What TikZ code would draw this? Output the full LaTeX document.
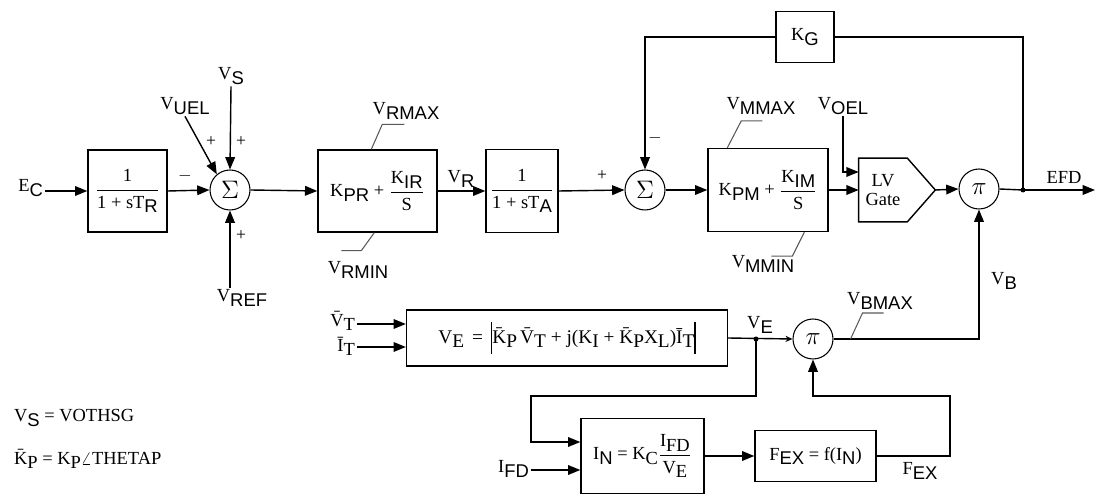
\documentclass[tikz,border=0pt]{standalone}
\usepackage{fontspec}
\usepackage{amsmath}
\setmainfont{Liberation Serif}
\setsansfont{Liberation Sans}
\usetikzlibrary{arrows.meta,calc}

% letra con subindice (sans) y subindice serif
\newcommand{\sub}[2]{\mbox{#1\raisebox{-0.5ex}{\sffamily #2}}}
\newcommand{\rsub}[2]{\mbox{#1\raisebox{-0.5ex}{#2}}}
\newcommand{\absbar}{\rule[-1.2ex]{0.7pt}{3.6ex}}

\tikzset{
  blk/.style={draw, line width=0.8pt, inner sep=1pt, font=\fontsize{10.5}{12}\selectfont},
  summ/.style={draw, circle, line width=0.6pt, minimum size=0.8cm, inner sep=0pt, font=\Large},
  sig/.style={line width=0.8pt, -{Triangle[length=7pt,width=5.5pt]}},
  wire/.style={line width=0.8pt},
  lim/.style={line width=0.6pt, black!65},
  lbl/.style={font=\fontsize{10.5}{12}\selectfont, inner sep=1pt},
  sgn/.style={font=\normalsize, inner sep=0pt},
}

\begin{document}
\begin{tikzpicture}[x=0.02cm, y=-0.02cm]
    \useasboundingbox (0,0) rectangle (1096,496);

    % Bloques
    \node[blk, minimum width=1.58cm, minimum height=1.64cm] (tr) at (127.5,191)
        {$\dfrac{\mbox{1}}{\mbox{1 + s\sub{T}{R}}}$};
    \node[summ] (sum1) at (230,190) {$\Sigma$};
    \node[blk, minimum width=2.38cm, minimum height=1.64cm] (pr) at (377.5,191)
        {\sub{K}{PR} + $\dfrac{\mbox{\sub{K}{IR}}}{\mbox{S}}$};
    \node[blk, minimum width=1.44cm, minimum height=1.66cm] (ta) at (522,191)
        {$\dfrac{\mbox{1}}{\mbox{1 + s\sub{T}{A}}}$};
    \node[summ] (sum2) at (645,190) {$\Sigma$};
    \node[blk, minimum width=2.4cm, minimum height=1.66cm] (pm) at (768,190)
        {\sub{K}{PM} + $\dfrac{\mbox{\sub{K}{IM}}}{\mbox{S}}$};
    \node[minimum width=0.96cm, minimum height=1.26cm, inner sep=0pt, align=center,
          font=\fontsize{10.5}{11}\selectfont] (gbox) at (883,190) {LV\\Gate};
    \node[summ] (pi1) at (979,189) {$\pi$};
    \node[blk, minimum width=1.16cm, minimum height=1.02cm] (kg) at (805,37) {\sub{K}{G}};
    \node[blk, minimum width=6.42cm, minimum height=1.12cm, font=\fontsize{11}{12}\selectfont] (ve) at (567,338)
        {\rsub{V}{E} \,=\, \absbar\rsub{\={K}}{P}\,\rsub{\={V}}{T} + j(\rsub{K}{I} + \rsub{\={K}}{P}\rsub{X}{L})\rsub{\={I}}{T}\absbar};
    \node[summ] (pi2) at (813,339) {$\pi$};
    \node[blk, minimum width=2.46cm, minimum height=1.5cm] (in) at (642.5,456)
        {\sub{I}{N} = \rsub{K}{C}$\dfrac{\mbox{\rsub{I}{FD}}}{\mbox{\rsub{V}{E}}}$};
    \node[blk, minimum width=2.42cm, minimum height=1.02cm] (fex) at (815.5,456)
        {\sub{F}{EX} = f(\sub{I}{N})};

    % Compuerta LV
    \draw[line width=0.8pt] (gbox.north west) -- (gbox.north east)
        -- ($(gbox.east)+(28,0)$) coordinate (gtip) -- (gbox.south east)
        -- (gbox.south west) -- cycle;

    % Etiquetas
    \node[lbl, anchor=east] (ec) at (45,188) {\sub{E}{C}};
    \node[lbl] (vs) at (231,76) {\sub{V}{S}};
    \node[lbl] (vuel) at (185,106) {\sub{V}{UEL}};
    \node[lbl] (vref) at (242,298) {\sub{V}{REF}};
    \node[lbl] (vrmax) at (406,111) {\sub{V}{RMAX}};
    \node[lbl] (vrmin) at (358,270) {\sub{V}{RMIN}};
    \node[lbl] (vr) at (461,179) {\sub{V}{R}};
    \node[lbl] (vmmax) at (761,106) {\sub{V}{MMAX}};
    \node[lbl] (voel) at (843,106) {\sub{V}{OEL}};
    \node[lbl] (vmmin) at (763,264) {\sub{V}{MMIN}};
    \node[lbl] (efd) at (1064,177) {EFD};
    \node[lbl] (vb) at (1004,281) {\sub{V}{B}};
    \node[lbl] (vbmax) at (880,301) {\sub{V}{BMAX}};
    \node[lbl] (vel) at (760,325) {\sub{V}{E}};
    \node[lbl, anchor=east] (vt) at (357,321) {\rsub{\={V}}{T}};
    \node[lbl, anchor=east] (it) at (357,346) {\rsub{\={I}}{T}};
    \node[lbl, anchor=east] (ifd) at (531,469) {\sub{I}{FD}};
    \node[lbl] (fexl) at (920,471) {\sub{F}{EX}};

    % Signos
    \node[sgn] at (211,142) {+};
    \node[sgn] at (241,142) {+};
    \node[sgn] at (185,176) {$-$};
    \node[sgn] at (241,236) {+};
    \node[sgn] at (602,176) {+};
    \node[sgn] at (655,138) {$-$};

    % Puntos de union
    \coordinate (j1) at (1023,190);
    \coordinate (j2) at (756,339);
    \coordinate (efdend) at (1095,190);
    \coordinate (k1) at (531,396);
    \coordinate (k2) at (950,396);
    \coordinate (vtin) at ($(ve.west)+(0,-14)$);
    \coordinate (itin) at ($(ve.west)+(0,9)$);
    \coordinate (inup) at ($(in.west)+(0,-14)$);
    \coordinate (indn) at ($(in.west)+(0,14)$);

    % Lazo principal
    \draw[sig] (ec.east |- tr.west) -- (tr.west);
    \draw[sig] (tr.east) -- (sum1.west);
    \draw[sig] (vs.south) -- (sum1.north);
    \draw[sig] (vuel.south) -- (sum1.130);
    \draw[sig] (vref.north -| sum1) -- (sum1.south);
    \draw[sig] (sum1.east) -- (pr.west);
    \draw[sig] (pr.east) -- (ta.west);
    \draw[sig] (ta.east) -- (sum2.west);
    \draw[sig] (sum2.east) -- (pm.west);
    \draw[sig] (pm.east) -- (pm.east -| gbox.west);
    \draw[sig] (voel.south) |- ($(gbox.west)+(0,-18)$);
    \draw[sig] (gtip) -- (pi1.west);
    \draw[wire] (pi1.east) -- (j1);
    \draw[sig] (j1) -- (efdend);
    \fill (j1) circle (2.5);

    % Realimentacion K_G
    \draw[wire] (kg.east) -| (j1);
    \draw[sig] (kg.west) -| (sum2.north);

    % Rama V_B
    \draw[sig] (pi2.east) -| (pi1.south);
    \draw[sig] (vt.east |- vtin) -- (vtin);
    \draw[sig] (it.east |- itin) -- (itin);
    \draw[wire, -{Stealth[length=4pt,width=3.5pt]}] (ve.east) -- (pi2.west);
    \fill (j2) circle (2.5);
    \draw[sig] (j2) |- (k1) |- (inup);
    \draw[sig] (ifd.east |- indn) -- (indn);
    \draw[sig] (in.east |- fex.west) -- (fex.west);
    \draw[sig] (fex.east) -| (k2) -| (pi2.south);

    % Limitadores
    \draw[lim] ($(pr.north west)+(54,0)$) -- ++(11,-25) -- ++(22,0);
    \draw[lim] ($(pr.south west)+(57,0)$) -- ++(-13,18) -- ++(-20,0);
    \draw[lim] ($(pm.north west)+(20,0)$) -- ++(14,-27) -- ++(21,0);
    \draw[lim] ($(pm.south west)+(97,0)$) -- ++(-12,24) -- ++(-21,0);
    \draw[lim] ($(pi2.east)+(17,0)$) -- ++(12,-26) -- ++(21,0);

    % Notas
    \node[lbl, anchor=west] (note1) at (12,418) {\sub{V}{S} = VOTHSG};
    \node[lbl, anchor=west] (note2) at (12,459) {\rsub{\={K}}{P} = \rsub{K}{P}$\angle$THETAP};
\end{tikzpicture}
\end{document}
